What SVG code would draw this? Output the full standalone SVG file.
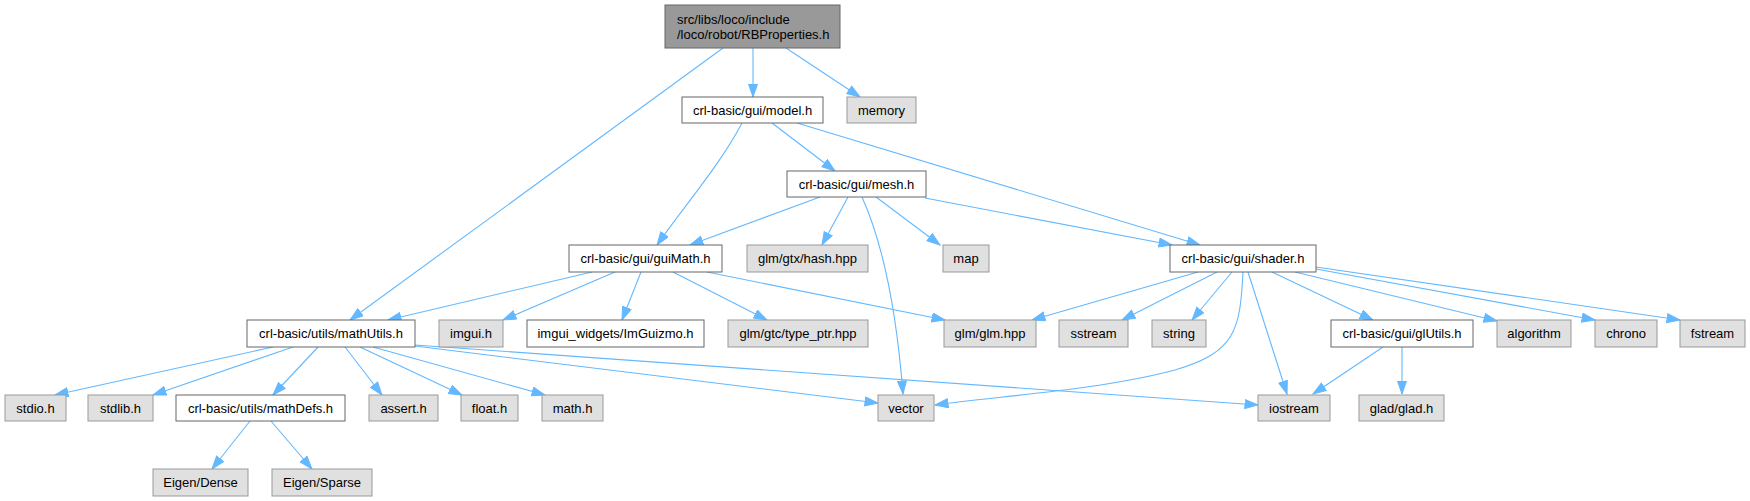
<svg xmlns="http://www.w3.org/2000/svg" width="1750" height="501" viewBox="0 0 1750 501">
<style>
.n rect{fill:#ffffff;stroke:#666666;stroke-width:1}
.s rect{fill:#e0e0e0;stroke:#999999;stroke-width:1}
.r rect{fill:#999999;stroke:#666666;stroke-width:1}
text{font-family:"Liberation Sans",Arial,sans-serif;font-size:13px;fill:#000000;text-anchor:middle}
.e path{fill:none;stroke:#63b8ff;stroke-width:1.1;marker-end:url(#ah)}
</style>
<defs>
<marker id="ah" markerUnits="userSpaceOnUse" markerWidth="15" markerHeight="11" refX="13.5" refY="5" orient="auto">
<path d="M0.5,0.5 L13.5,5 L0.5,9.5 z" fill="#63b8ff" stroke="#63b8ff" stroke-width="1"/>
</marker>
</defs>
<rect x="0" y="0" width="1750" height="501" fill="#ffffff"/>
<g id="connectors" class="e">
<path d="M723,48 L350,320"/>
<path d="M753,48 L753,97"/>
<path d="M786,48 L860,97"/>
<path d="M742,123 C720,165 685,205 657,245"/>
<path d="M772,123 L835,171"/>
<path d="M797,123 L1200,245"/>
<path d="M820,197 L690,245"/>
<path d="M848,197 L822,245"/>
<path d="M862,197 C888,255 898,330 903,394"/>
<path d="M876,197 L940,245"/>
<path d="M925,198 L1172,245"/>
<path d="M592,272 L388,320"/>
<path d="M615,272 L503,320"/>
<path d="M641,272 L622,320"/>
<path d="M673,272 L767,320"/>
<path d="M707,272 L945,320"/>
<path d="M1198,272 L1032,320"/>
<path d="M1217,272 L1122,320"/>
<path d="M1232,272 L1192,320"/>
<path d="M1243,272 C1240,330 1236,352 1175,370 C1100,390 1000,396 935,405"/>
<path d="M1248,272 L1287,394"/>
<path d="M1272,272 L1373,320"/>
<path d="M1295,272 L1497,321"/>
<path d="M1316,269 L1595,320"/>
<path d="M1316,267 L1680,320"/>
<path d="M1383,347 L1313,394"/>
<path d="M1402,347 L1402,394"/>
<path d="M273,347 L55,395"/>
<path d="M293,347 L153,395"/>
<path d="M318,347 L273,395"/>
<path d="M345,347 L382,395"/>
<path d="M360,347 L462,395"/>
<path d="M373,347 L545,395"/>
<path d="M415,346 L878,403"/>
<path d="M415,345 L1258,405"/>
<path d="M250,421 L212,469"/>
<path d="M271,421 L312,469"/>
</g>
<g id="root" class="r"><rect x="665" y="5" width="175" height="43"/><text x="677" y="23.5" style="text-anchor:start">src/libs/loco/include</text><text x="677" y="38.5" style="text-anchor:start">/loco/robot/RBProperties.h</text></g>
<g id="model" class="n"><rect x="682" y="97" width="141" height="26"/><text x="752.5" y="114.5">crl-basic/gui/model.h</text></g>
<g id="memory" class="s"><rect x="847" y="97" width="69" height="26"/><text x="881.5" y="114.5">memory</text></g>
<g id="mesh" class="n"><rect x="787" y="171" width="139" height="26"/><text x="856.5" y="188.5">crl-basic/gui/mesh.h</text></g>
<g id="guiMath" class="n"><rect x="569" y="245" width="153" height="27"/><text x="645.5" y="263">crl-basic/gui/guiMath.h</text></g>
<g id="hash" class="s"><rect x="747" y="245" width="121" height="27"/><text x="807.5" y="263">glm/gtx/hash.hpp</text></g>
<g id="map" class="s"><rect x="943" y="245" width="46" height="27"/><text x="966" y="263">map</text></g>
<g id="shader" class="n"><rect x="1170" y="245" width="146" height="27"/><text x="1243" y="263">crl-basic/gui/shader.h</text></g>
<g id="mathUtils" class="n"><rect x="247" y="320" width="168" height="27"/><text x="331" y="338">crl-basic/utils/mathUtils.h</text></g>
<g id="imgui" class="s"><rect x="439" y="320" width="64" height="27"/><text x="471" y="338">imgui.h</text></g>
<g id="imguizmo" class="n"><rect x="527" y="320" width="177" height="27"/><text x="615.5" y="338">imgui_widgets/ImGuizmo.h</text></g>
<g id="typeptr" class="s"><rect x="728" y="320" width="140" height="27"/><text x="798" y="338">glm/gtc/type_ptr.hpp</text></g>
<g id="glm" class="s"><rect x="944" y="320" width="92" height="27"/><text x="990" y="338">glm/glm.hpp</text></g>
<g id="sstream" class="s"><rect x="1059" y="320" width="69" height="27"/><text x="1093.5" y="338">sstream</text></g>
<g id="string" class="s"><rect x="1152" y="320" width="54" height="27"/><text x="1179" y="338">string</text></g>
<g id="glUtils" class="n"><rect x="1331" y="320" width="142" height="27"/><text x="1402" y="338">crl-basic/gui/glUtils.h</text></g>
<g id="algorithm" class="s"><rect x="1497" y="320" width="74" height="27"/><text x="1534" y="338">algorithm</text></g>
<g id="chrono" class="s"><rect x="1595" y="320" width="62" height="27"/><text x="1626" y="338">chrono</text></g>
<g id="fstream" class="s"><rect x="1680" y="320" width="65" height="27"/><text x="1712.5" y="338">fstream</text></g>
<g id="stdio" class="s"><rect x="5" y="395" width="61" height="26"/><text x="35.5" y="412.5">stdio.h</text></g>
<g id="stdlib" class="s"><rect x="88" y="395" width="65" height="26"/><text x="120.5" y="412.5">stdlib.h</text></g>
<g id="mathDefs" class="n"><rect x="176" y="395" width="169" height="26"/><text x="260.5" y="412.5">crl-basic/utils/mathDefs.h</text></g>
<g id="assert" class="s"><rect x="369" y="395" width="69" height="26"/><text x="403.5" y="412.5">assert.h</text></g>
<g id="float" class="s"><rect x="461" y="395" width="57" height="26"/><text x="489.5" y="412.5">float.h</text></g>
<g id="math" class="s"><rect x="542" y="395" width="61" height="26"/><text x="572.5" y="412.5">math.h</text></g>
<g id="vector" class="s"><rect x="878" y="395" width="56" height="26"/><text x="906" y="412.5">vector</text></g>
<g id="iostream" class="s"><rect x="1258" y="395" width="72" height="26"/><text x="1294" y="412.5">iostream</text></g>
<g id="glad" class="s"><rect x="1359" y="395" width="85" height="26"/><text x="1401.5" y="412.5">glad/glad.h</text></g>
<g id="eigenDense" class="s"><rect x="153" y="469" width="95" height="27"/><text x="200.5" y="487">Eigen/Dense</text></g>
<g id="eigenSparse" class="s"><rect x="272" y="469" width="100" height="27"/><text x="322" y="487">Eigen/Sparse</text></g>
</svg>
